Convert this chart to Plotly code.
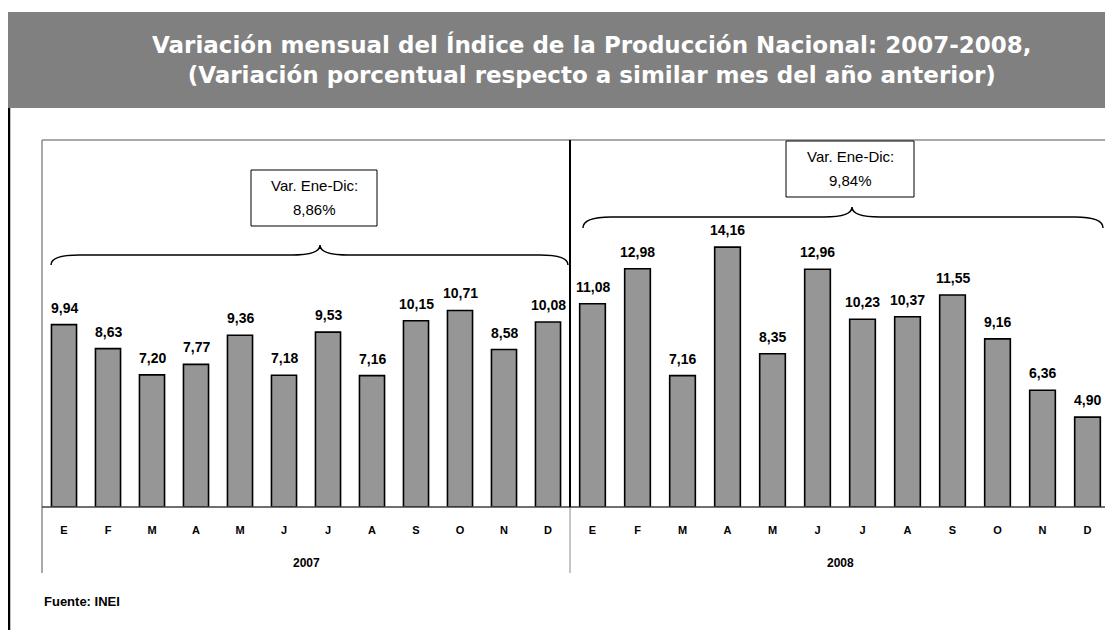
import plotly.graph_objects as go
from plotly.subplots import make_subplots

# data
years = ["2007", "2008"]
months = ["E", "F", "M", "A", "M", "J", "J", "A", "S", "O", "N", "D"]
var_2007 = [9.94, 8.63, 7.20, 7.77, 9.36, 7.18, 9.53, 7.16, 10.15, 10.71, 8.58, 10.08]
var_2008 = [11.08, 12.98, 7.16, 14.16, 8.35, 12.96, 10.23, 10.37, 11.55, 9.16, 6.36, 4.90]
var_anual = ["8,86%", "9,84%"]

title = ("Variación mensual del Índice de la Producción Nacional: 2007-2008,<br>"
         "(Variación porcentual respecto a similar mes del año anterior)")

# the page body has an 8px margin, so the figure starts at (8, 8) on screen
OFF = 8
W, H = 1113 - OFF, 630 - OFF
# plot area in screen pixels
L, R, T, B = 42, 1110, 140, 507


def px(X):
    return (X - L) / (R - L)


def py(Y):
    return (B - Y) / (B - T)


SANS = "Liberation Sans, Arial"

fig = make_subplots(rows=1, cols=2, shared_yaxes=True, horizontal_spacing=0,
                    column_widths=[528, 540])

series = [var_2007, var_2008]
for k, vals in enumerate(series):
    fig.add_trace(go.Bar(x=list(range(len(months))), y=vals, width=0.57,
                         marker=dict(color="#969696", line=dict(color="black", width=1.6)),
                         showlegend=False, hoverinfo="skip"), row=1, col=k + 1)
    xr = "x" if k == 0 else "x2"
    yr = "y" if k == 0 else "y2"
    for i, v in enumerate(vals):
        fig.add_annotation(x=i, y=v, xref=xr, yref=yr, yshift=7, yanchor="bottom",
                           xanchor="center", text=f"<b>{v:.2f}</b>".replace(".", ","),
                           showarrow=False, font=dict(family=SANS, size=14, color="black"))

for k in (1, 2):
    fig.update_xaxes(range=[-0.5, 11.5], tickvals=list(range(12)), ticktext=months,
                     tickfont=dict(family=SANS, size=11, color="black", weight="bold"),
                     ticks="", ticklabelstandoff=15, showgrid=False, zeroline=False,
                     showline=False, row=1, col=k)
    fig.update_yaxes(range=[0, 20], visible=False, showgrid=False, row=1, col=k)

shapes = []
# title banner and left black bar
shapes.append(dict(type="rect", xref="paper", yref="paper", x0=px(8), x1=px(1113), y0=py(108),
                   y1=py(12), fillcolor="#808080", line=dict(width=0), layer="below"))
shapes.append(dict(type="line", xref="paper", yref="paper", x0=px(9), x1=px(9), y0=py(108),
                   y1=py(630), line=dict(color="black", width=2.5)))
# plot box
grey = "#8c8c8c"
shapes.append(dict(type="line", xref="paper", yref="paper", x0=0, x1=1, y0=1, y1=1,
                   line=dict(color=grey, width=1.5)))
for xx in (0, 1):
    shapes.append(dict(type="line", xref="paper", yref="paper", x0=xx, x1=xx, y0=py(573),
                       y1=1, line=dict(color=grey, width=1.5)))
shapes.append(dict(type="line", xref="paper", yref="paper", x0=px(570), x1=px(570), y0=py(573),
                   y1=0, line=dict(color=grey, width=1)))
shapes.append(dict(type="line", xref="paper", yref="paper", x0=0, x1=1, y0=0, y1=0,
                   line=dict(color="#404040", width=1.5)))
shapes.append(dict(type="line", xref="paper", yref="paper", x0=px(570), x1=px(570), y0=0,
                   y1=1, line=dict(color="black", width=2)))


def brace(x0, x1, xc, ye, yh, yt, r=28):
    pts = [(x0, ye), (x0, yh), (x0 + r, yh), (xc - r, yh), (xc, yh), (xc, yt),
           (xc, yh), (xc + r, yh), (x1 - r, yh), (x1, yh), (x1, ye)]
    p = [f"{px(a):.5f},{py(b):.5f}" for a, b in pts]
    return (f"M {p[0]} Q {p[1]} {p[2]} L {p[3]} Q {p[4]} {p[5]} "
            f"Q {p[6]} {p[7]} L {p[8]} Q {p[9]} {p[10]}")


braces = [(51, 568, 320, 265, 255, 245), (583, 1103, 852, 228, 217, 207)]
boxes = [(251, 377, 170, 226), (786, 914, 141, 197)]
for k in range(2):
    shapes.append(dict(type="path", xref="paper", yref="paper", path=brace(*braces[k]),
                       line=dict(color="black", width=1.5)))
    bx0, bx1, by0, by1 = boxes[k]
    shapes.append(dict(type="rect", xref="paper", yref="paper", x0=px(bx0), x1=px(bx1),
                       y0=py(by1), y1=py(by0), fillcolor="white",
                       line=dict(color="black", width=1)))
    cx = (bx0 + bx1) / 2
    fig.add_annotation(x=px(cx), y=py(by0 + 15), xref="paper", yref="paper", text="Var. Ene-Dic:",
                       showarrow=False, xanchor="center", yanchor="middle",
                       font=dict(family=SANS, size=15, color="black"))
    fig.add_annotation(x=px(cx), y=py(by0 + 39), xref="paper", yref="paper", text=var_anual[k],
                       showarrow=False, xanchor="center", yanchor="middle",
                       font=dict(family=SANS, size=15, color="black"))
    # year label under each half
    fig.add_annotation(x=px(306 if k == 0 else 840), y=py(563), xref="paper", yref="paper",
                       text=f"<b>{years[k]}</b>", showarrow=False, xanchor="center",
                       yanchor="middle", font=dict(family=SANS, size=12, color="black"))

fig.add_annotation(x=px(591), y=py(60), xref="paper", yref="paper", text=f"<b>{title}</b>",
                   showarrow=False, align="center", xanchor="center", yanchor="middle",
                   font=dict(family="DejaVu Sans", size=23, color="white"))
fig.add_annotation(x=px(42), y=py(601), xref="paper", yref="paper", xanchor="left",
                   yanchor="middle", text="<b>Fuente: INEI</b>", showarrow=False,
                   font=dict(family=SANS, size=13, color="black"))

fig.update_layout(width=W, height=H, shapes=shapes, bargap=0.43,
                  margin=dict(l=L - OFF, r=1113 - R, t=T - OFF, b=630 - B),
                  plot_bgcolor="white", paper_bgcolor="white")

fig.write_html("out.html")
